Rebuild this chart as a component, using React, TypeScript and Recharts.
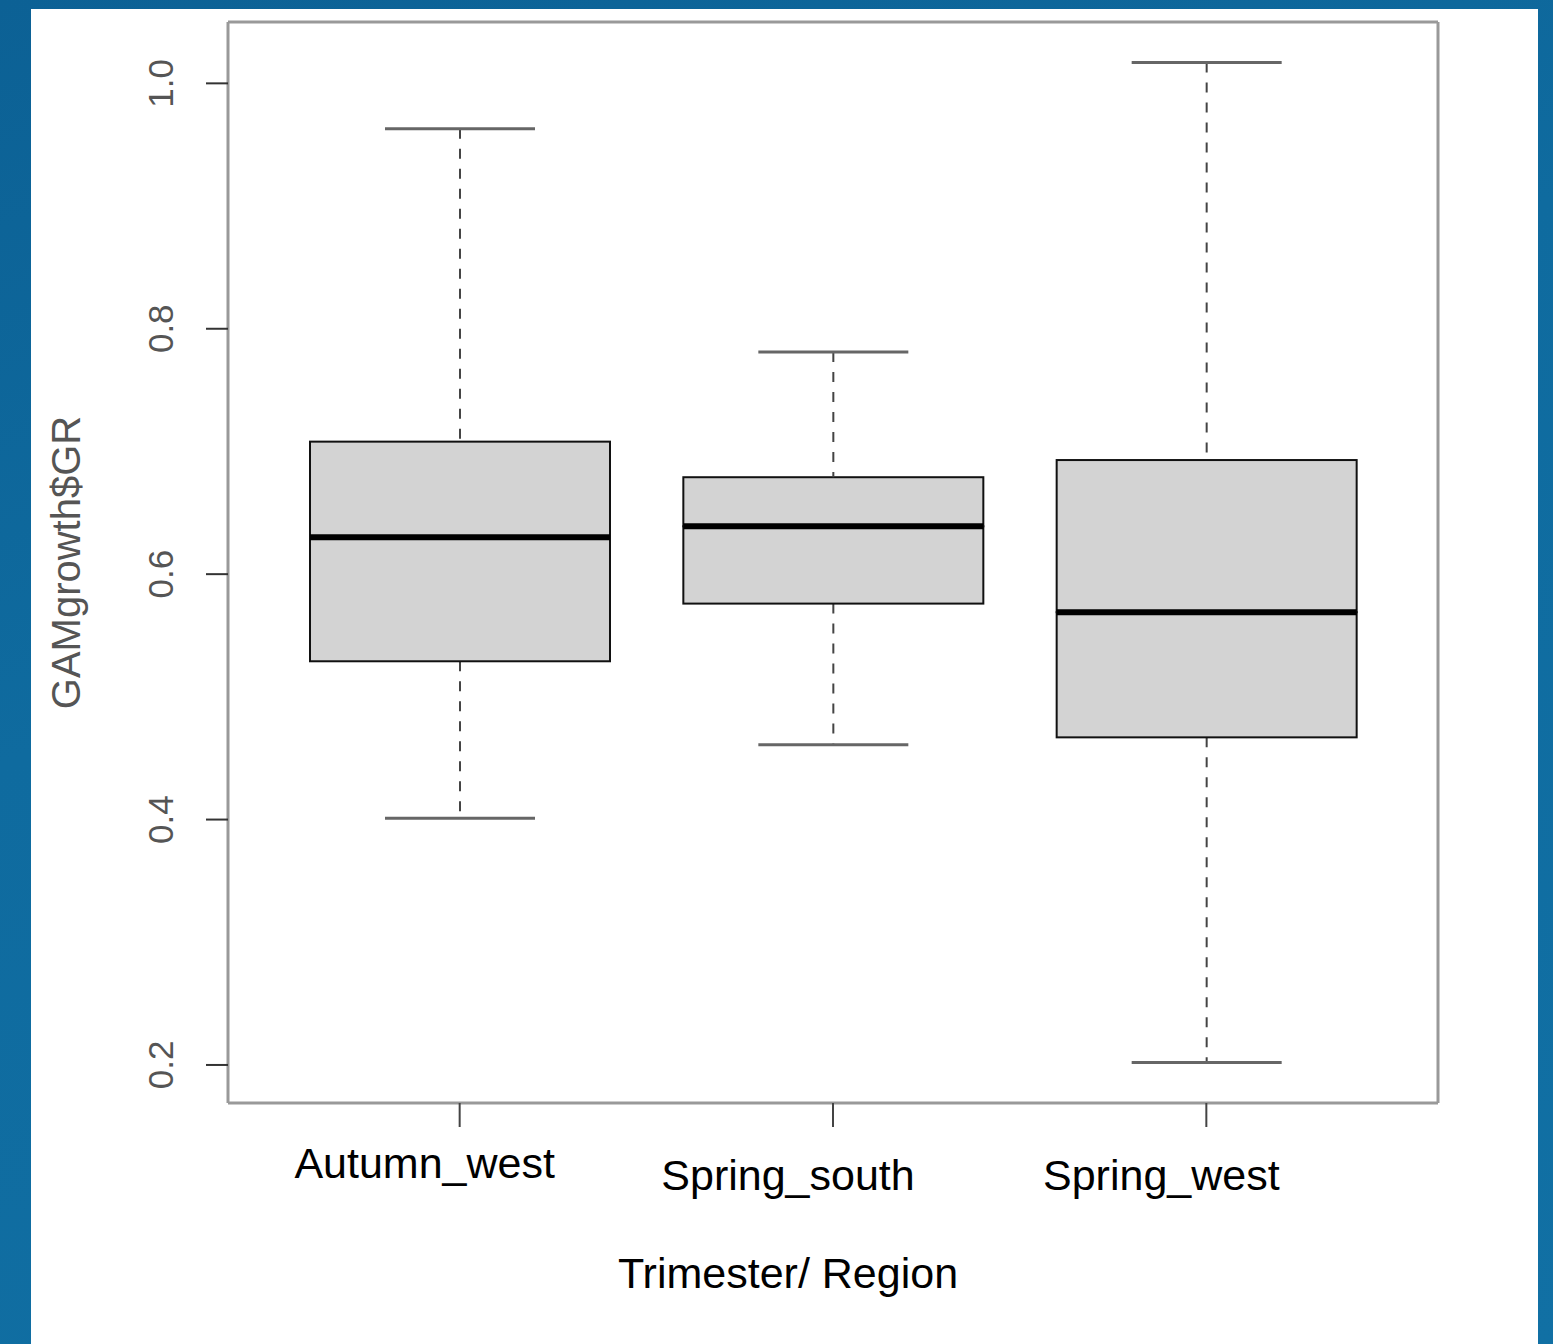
import React from "react";
import {
	ComposedChart,
	Bar,
	XAxis,
	YAxis,
} from "recharts";

// five-number summaries
const groups = ["Autumn_west", "Spring_south", "Spring_west"];
const lowerWhisker = [0.401, 0.461, 0.202];
const firstQuartile = [0.529, 0.576, 0.467];
const medians = [0.630, 0.639, 0.569];
const thirdQuartile = [0.708, 0.679, 0.693];
const upperWhisker = [0.963, 0.781, 1.017];
const yTicks = [0.2, 0.4, 0.6, 0.8, 1.0];
const yDomain = [0.169, 1.05];

const rows = groups.map((g, i) => ({
	group: g,
	base: lowerWhisker[i],
	lowWhisker: firstQuartile[i] - lowerWhisker[i],
	lowBox: medians[i] - firstQuartile[i],
	highBox: thirdQuartile[i] - medians[i],
	highWhisker: upperWhisker[i] - thirdQuartile[i],
}));

const FONT = "'Liberation Sans', Arial, sans-serif";
const FRAME = { stroke: "#999", strokeWidth: 3 };
// the category labels sit a little left of their ticks in the original
const labelNudge = [
	{ dx: -35, dy: 49 },
	{ dx: -45, dy: 61 },
	{ dx: -45, dy: 61 },
];

const Empty = () => <g />;

const LowWhisker = (props: any) => {
	const { x, y, width, height } = props;
	const cx = x + width / 2;
	return (
		<g>
			<line x1={cx} x2={cx} y1={y} y2={y + height} stroke="#444" strokeWidth={2} strokeDasharray="10 10" />
			<line x1={cx - width / 4} x2={cx + width / 4} y1={y + height} y2={y + height} stroke="#666" strokeWidth={3} />
		</g>
	);
};

const HighWhisker = (props: any) => {
	const { x, y, width, height } = props;
	const cx = x + width / 2;
	return (
		<g>
			<line x1={cx} x2={cx} y1={y} y2={y + height} stroke="#444" strokeWidth={2} strokeDasharray="10 10" />
			<line x1={cx - width / 4} x2={cx + width / 4} y1={y} y2={y} stroke="#666" strokeWidth={3} />
		</g>
	);
};

const LowBox = (props: any) => {
	const { x, y, width, height } = props;
	return <rect x={x} y={y} width={width} height={height} fill="#d3d3d3" stroke="#111" strokeWidth={2} />;
};

const HighBox = (props: any) => {
	const { x, y, width, height } = props;
	return (
		<g>
			<rect x={x} y={y} width={width} height={height} fill="#d3d3d3" stroke="#111" strokeWidth={2} />
			<line x1={x} x2={x + width} y1={y + height} y2={y + height} stroke="#000" strokeWidth={6} />
		</g>
	);
};

const XTick = (props: any) => {
	const { x, y, payload } = props;
	const n = labelNudge[payload.index] || { dx: 0, dy: 50 };
	return (
		<text x={x + n.dx} y={y + n.dy} textAnchor="middle" fontFamily={FONT} fontSize={43} fill="#000">
			{payload.value}
		</text>
	);
};

const YTick = (props: any) => {
	const { y, payload } = props;
	const bx = 173;
	return (
		<text
			x={bx}
			y={y}
			transform={`rotate(-90 ${bx} ${y})`}
			textAnchor="middle"
			fontFamily={FONT}
			fontSize={35}
			fill="#555"
		>
			{Number(payload.value).toFixed(1)}
		</text>
	);
};

export default function App() {
	return (
		<div
			style={{
				position: "absolute",
				left: 0,
				top: 0,
				width: 1553,
				height: 1344,
				overflow: "hidden",
				background: "linear-gradient(160deg, #0c6195 0%, #0f6b9f 40%, #1170a4 100%)",
			}}
		>
			<div style={{ position: "absolute", left: 31, top: 9, width: 1507, height: 1335, background: "#fff" }} />
			<div style={{ position: "absolute", left: 0, top: 0 }}>
				<ComposedChart
					width={1553}
					height={1344}
					data={rows}
					margin={{ top: 21, right: 114, left: 128, bottom: 141 }}
				>
					<XAxis
						dataKey="group"
						type="category"
						height={100}
						padding={{ left: 45, right: 45 }}
						axisLine={FRAME}
						tickSize={24}
						tickLine={{ stroke: "#444", strokeWidth: 2 }}
						tick={<XTick />}
						interval={0}
						label={(p: any) => {
							const vb = p.viewBox;
							return (
								<text
									x={vb.x + vb.width / 2 - 45}
									y={vb.y + 185}
									textAnchor="middle"
									fontFamily={FONT}
									fontSize={43}
									fill="#000"
								>
									Trimester/ Region
								</text>
							);
						}}
					/>
					<XAxis
						xAxisId="top"
						orientation="top"
						dataKey="group"
						type="category"
						height={1}
						axisLine={FRAME}
						tick={false}
						tickLine={false}
					/>
					<YAxis
						type="number"
						domain={yDomain}
						allowDataOverflow
						ticks={yTicks}
						width={100}
						axisLine={FRAME}
						tickSize={22}
						tickLine={{ stroke: "#333", strokeWidth: 2 }}
						tick={<YTick />}
						label={(p: any) => {
							const vb = p.viewBox;
							const lx = vb.x - 48;
							const ly = vb.y + vb.height / 2;
							return (
								<text
									x={lx}
									y={ly}
									transform={`rotate(-90 ${lx} ${ly})`}
									textAnchor="middle"
									fontFamily={FONT}
									fontSize={40}
									fill="#555"
								>
									GAMgrowth$GR
								</text>
							);
						}}
					/>
					<YAxis
						yAxisId="right"
						orientation="right"
						type="number"
						domain={yDomain}
						allowDataOverflow
						width={1}
						axisLine={FRAME}
						tick={false}
						tickLine={false}
					/>
					<Bar dataKey="base" stackId="box" barSize={300} shape={<Empty />} isAnimationActive={false} />
					<Bar dataKey="lowWhisker" stackId="box" barSize={300} shape={<LowWhisker />} isAnimationActive={false} />
					<Bar dataKey="lowBox" stackId="box" barSize={300} shape={<LowBox />} isAnimationActive={false} />
					<Bar dataKey="highBox" stackId="box" barSize={300} shape={<HighBox />} isAnimationActive={false} />
					<Bar dataKey="highWhisker" stackId="box" barSize={300} shape={<HighWhisker />} isAnimationActive={false} />
				</ComposedChart>
			</div>
		</div>
	);
}
